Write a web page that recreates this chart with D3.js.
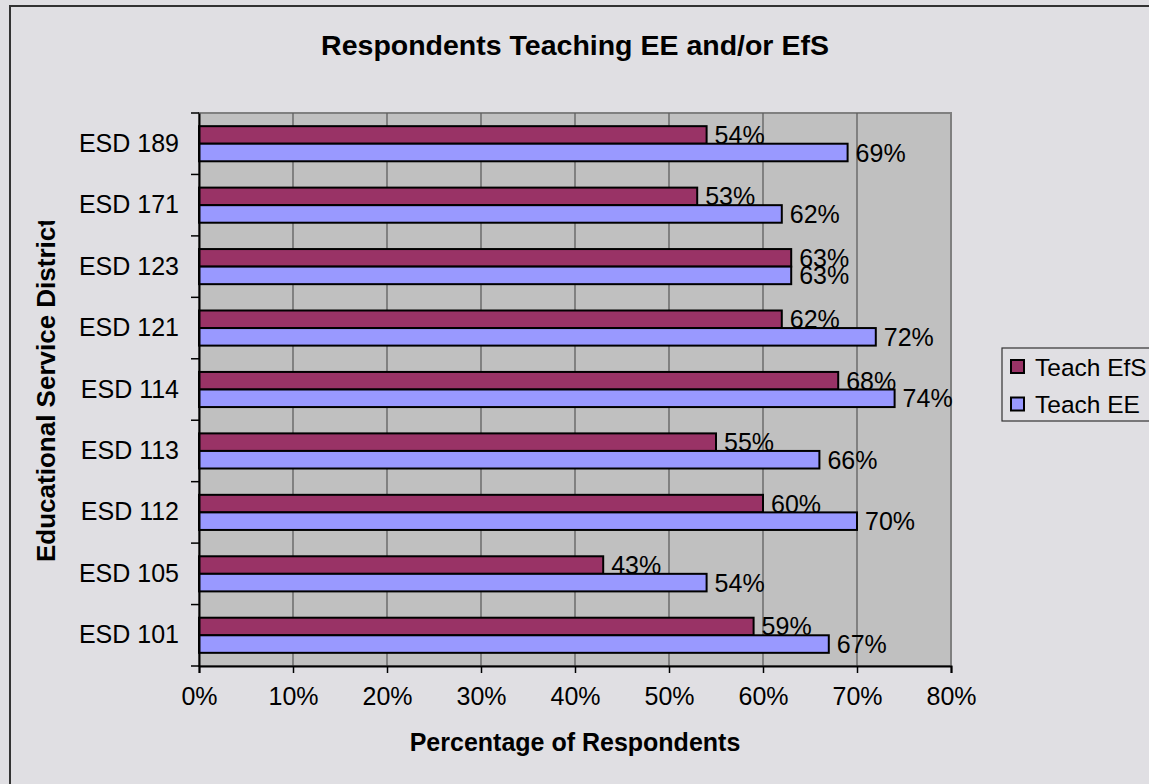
<!DOCTYPE html>
<html>
<head>
<meta charset="utf-8">
<script src="https://cdn.jsdelivr.net/npm/d3@7"></script>
<style>
  html, body { margin: 0; padding: 0; background: #E0DFE3; }
  svg { display: block; font-family: "Liberation Sans", Arial, sans-serif; }
</style>
</head>
<body>
<svg id="chart" width="1149" height="784"></svg>
<script>
const categories = ["ESD 189", "ESD 171", "ESD 123", "ESD 121", "ESD 114", "ESD 113", "ESD 112", "ESD 105", "ESD 101"];
const seriesNames = ["Teach EfS", "Teach EE"];
const teachEfS = [54, 53, 63, 62, 68, 55, 60, 43, 59];
const teachEE  = [69, 62, 63, 72, 74, 66, 70, 54, 67];
const xTicks = [0, 10, 20, 30, 40, 50, 60, 70, 80];
const colors = ["#993366", "#9999FF"];
const titleText = "Respondents Teaching EE and/or EfS";
const xTitle = "Percentage of Respondents";
const yTitle = "Educational Service District";

const svg = d3.select("#chart");
const W = 1149, H = 784;
const plot = { left: 199, right: 951, top: 113, bottom: 666 };

// background + outer frame
svg.append("rect").attr("x", 0).attr("y", 0).attr("width", W).attr("height", H).attr("fill", "#E0DFE3");
svg.append("rect").attr("x", 10).attr("y", 6).attr("width", 1160).attr("height", 800)
  .attr("fill", "none").attr("stroke", "#333").attr("stroke-width", 2);

const x = d3.scaleLinear().domain([0, 80]).range([plot.left, plot.right]);
const y0 = d3.scaleBand().domain(categories).range([plot.top, plot.bottom]).padding(0);
const y1 = d3.scaleBand().domain(seriesNames).range([0, y0.bandwidth()]).paddingInner(0).paddingOuter(0.75);

// plot area
svg.append("rect").attr("x", plot.left).attr("y", plot.top)
  .attr("width", plot.right - plot.left).attr("height", plot.bottom - plot.top)
  .attr("fill", "#C0C0C0").attr("stroke", "#808080").attr("stroke-width", 2);

// gridlines
svg.append("g").selectAll("line").data(xTicks.slice(1, -1)).join("line")
  .attr("x1", d => x(d)).attr("x2", d => x(d))
  .attr("y1", plot.top).attr("y2", plot.bottom)
  .attr("stroke", "#5f5f5f").attr("stroke-width", 1.3);

// bars
const data = categories.map((c, i) => ({ cat: c, vals: [teachEfS[i], teachEE[i]] }));
const groups = svg.append("g").selectAll("g").data(data).join("g")
  .attr("transform", d => `translate(0,${y0(d.cat)})`);
groups.selectAll("rect").data(d => d.vals.map((v, j) => ({ v, s: seriesNames[j], j }))).join("rect")
  .attr("x", x(0)).attr("y", d => y1(d.s))
  .attr("width", d => x(d.v) - x(0)).attr("height", y1.bandwidth())
  .attr("fill", d => colors[d.j]).attr("stroke", "#000").attr("stroke-width", 2);
groups.selectAll("text").data(d => d.vals.map((v, j) => ({ v, s: seriesNames[j], j }))).join("text")
  .attr("x", d => x(d.v) + 8).attr("y", d => y1(d.s) + y1.bandwidth() / 2)
  .attr("dy", "0.36em").attr("font-size", 25).attr("fill", "#000")
  .text(d => d.v + "%");

// axes
const xAxis = d3.axisBottom(x).tickValues(xTicks).tickFormat(d => d + "%").tickSize(7).tickPadding(14);
const gx = svg.append("g").attr("transform", `translate(0,${plot.bottom})`).call(xAxis);
gx.select(".domain").attr("stroke", "#000").attr("stroke-width", 2);
gx.selectAll(".tick line").attr("stroke", "#000").attr("stroke-width", 1.5);
gx.selectAll(".tick text").attr("font-size", 25).attr("fill", "#000").attr("font-family", "Liberation Sans, Arial, sans-serif");

const gy = svg.append("g").attr("transform", `translate(${plot.left},0)`)
  .call(d3.axisLeft(y0).tickSize(0).tickPadding(20));
gy.select(".domain").attr("stroke", "#000").attr("stroke-width", 2);
gy.selectAll(".tick text").attr("font-size", 25).attr("fill", "#000").attr("font-family", "Liberation Sans, Arial, sans-serif");
// category boundary ticks
const bounds = categories.map(c => y0(c)).concat([plot.bottom]);
svg.append("g").selectAll("line").data(bounds).join("line")
  .attr("x1", plot.left - 8).attr("x2", plot.left).attr("y1", d => d).attr("y2", d => d)
  .attr("stroke", "#000").attr("stroke-width", 1.5);

// titles
svg.append("text").attr("x", 575).attr("y", 55).attr("text-anchor", "middle")
  .attr("font-size", 28.5).attr("font-weight", "bold").text(titleText);
svg.append("text").attr("x", 575).attr("y", 751).attr("text-anchor", "middle")
  .attr("font-size", 25).attr("font-weight", "bold").text(xTitle);
svg.append("clipPath").attr("id", "yclip").append("rect")
  .attr("x", 0).attr("y", 221).attr("width", 100).attr("height", 400);
svg.append("g").attr("clip-path", "url(#yclip)")
  .append("text")
  .attr("transform", "translate(55,562) rotate(-90)")
  .attr("text-anchor", "start").attr("font-size", 26).attr("font-weight", "bold").text(yTitle);

// legend
const lg = svg.append("g");
lg.append("rect").attr("x", 1002).attr("y", 348).attr("width", 200).attr("height", 73)
  .attr("fill", "#E0DFE3").attr("stroke", "#333").attr("stroke-width", 1.2);
const items = lg.selectAll("g").data(seriesNames).join("g")
  .attr("transform", (d, i) => `translate(1010,${360 + i * 37.5})`);
items.append("rect").attr("x", 1).attr("y", 0).attr("width", 13).attr("height", 13)
  .attr("fill", (d, i) => colors[i]).attr("stroke", "#000").attr("stroke-width", 2);
items.append("text").attr("x", 25).attr("y", 7).attr("dy", "0.36em")
  .attr("font-size", 24.5).text(d => d);
</script>
</body>
</html>
